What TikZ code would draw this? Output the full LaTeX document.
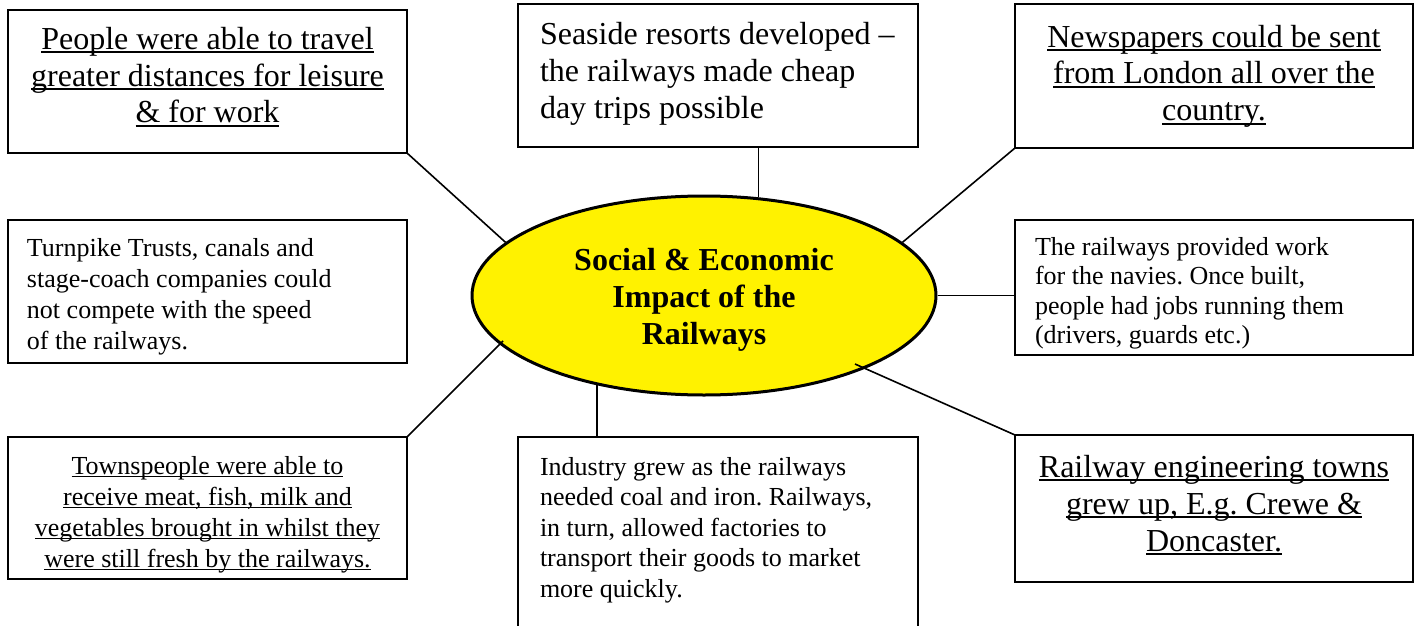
\documentclass[tikz,border=0pt]{standalone}
\usepackage{fontspec}
\setmainfont{Liberation Serif}
\usetikzlibrary{shapes.geometric}
\frenchspacing
\newcommand\myul[1]{\leavevmode\setbox0\hbox{#1}\rlap{\rule[-0.13em]{\wd0}{0.065em}}\box0}
\newcommand\bigtxt{\fontsize{32}{37}\selectfont}
\newcommand\smalltxt{\fontsize{26}{31}\selectfont}
\newcommand\smalltxtb{\fontsize{26}{30.5}\selectfont}
\newcommand\smalltxtc{\fontsize{26}{29.5}\selectfont}
% #1 width, #2 height, #3 font, #4 first baseline, #5 text
\newcommand\cbox[5]{\parbox[c][#2][t]{#1}{\centering #3\rule{0pt}{#4}#5}}
% #6 left padding
\newcommand\lbox[6]{\parbox[c][#2][t]{#1}{\raggedright\leftskip=#6\relax #3\rule{0pt}{#4}#5}}
\tikzset{
  box/.style={draw=black, line width=2pt, inner sep=0pt, outer sep=0pt, anchor=north west},
  link/.style={draw=black, line width=1.6pt},
  hub/.style={ellipse, draw=black, line width=3pt, fill=yellow, inner sep=0pt,
    minimum width=464pt, minimum height=199pt},
  hubtext/.style={align=center, inner sep=0pt,
    font=\bfseries\fontsize{32}{37}\selectfont},
}
\begin{document}
\begin{tikzpicture}[x=1pt,y=-1pt]
\useasboundingbox (0,0) rectangle (1419,626);
\clip (0,0) rectangle (1419,626);
\fill[white] (0,0) rectangle (1419,626);

\node[box] (b1) at (8,10) {\cbox{399pt}{143pt}{\bigtxt}{39pt}{\myul{People were able to travel}\\\myul{greater distances for leisure}\\\myul{\& for work}}};
\node[box] (b2) at (518,4) {\lbox{400pt}{143pt}{\bigtxt}{40pt}{Seaside resorts developed –\\the railways made cheap\\day trips possible}{22pt}};
\node[box] (b3) at (1015,4) {\cbox{398pt}{144pt}{\bigtxt}{43pt}{\myul{Newspapers could be sent}\\\myul{from London all over the}\\\myul{country.}}};
\node[box] (b4) at (8,220) {\lbox{399pt}{143pt}{\smalltxt}{36pt}{Turnpike Trusts, canals and\\stage-coach companies could\\not compete with the speed\\of the railways.}{19pt}};
\node[box] (b5) at (1015,220) {\lbox{398pt}{135pt}{\smalltxtc}{35pt}{The railways provided work\\for the navies. Once built,\\people had jobs running them\\(drivers, guards etc.)}{20pt}};
\node[box] (b6) at (8,437) {\cbox{399pt}{142pt}{\smalltxt}{37pt}{\myul{Townspeople were able to}\\\myul{receive meat, fish, milk and}\\\myul{vegetables brought in whilst they}\\\myul{were still fresh by the railways.}}};
\node[box] (b7) at (518,437) {\lbox{400pt}{213pt}{\smalltxtb}{38pt}{Industry grew as the railways\\needed coal and iron. Railways,\\in turn, allowed factories to\\transport their goods to market\\more quickly.}{22pt}};
\node[box] (b8) at (1015,435) {\cbox{398pt}{147pt}{\bigtxt}{42pt}{\myul{Railway engineering towns}\\\myul{grew up, E.g. Crewe \&}\\\myul{Doncaster.}}};

\node[hub] (ell) at (704,295.5) {};
\node[hubtext] (title) at (704,300) {Social \& Economic\\Impact of the\\Railways};

\coordinate (e6) at (503,341);
\coordinate (e8) at (855,364);
\draw[link] (b1.south east) -- (ell.165);
\draw[link] (ell.61) -- (ell.61 |- b2.south);
\draw[link] (b3.south west) -- (ell.15);
\draw[link] (ell.east) -- (ell.east -| b5.west);
\draw[link] (b6.north east) -- (e6);
\draw[link] (ell.220) -- (ell.220 |- b7.north);
\draw[link] (b8.north west) -- (e8);
\end{tikzpicture}
\end{document}
